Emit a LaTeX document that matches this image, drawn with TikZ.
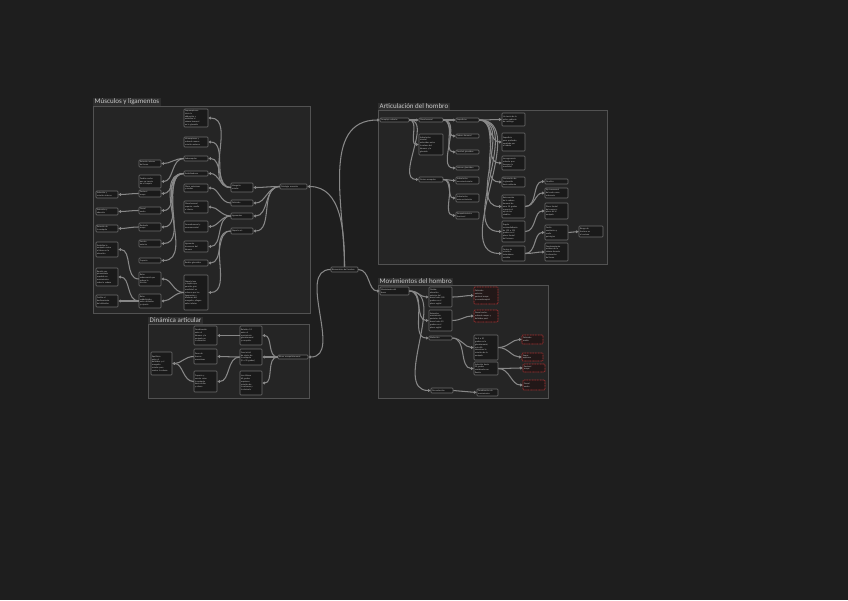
\documentclass[tikz,border=0pt]{standalone}
\usepackage{fontspec}
\setmainfont{Carlito}
\usetikzlibrary{arrows.meta}
\definecolor{bg}{HTML}{1E1E1E}
\definecolor{panel}{HTML}{252525}
\definecolor{panelline}{HTML}{525252}
\definecolor{boxfill}{HTML}{1A1A1A}
\definecolor{boxline}{HTML}{6E6E6E}
\definecolor{txt}{HTML}{C4C4C4}
\definecolor{ttxt}{HTML}{C8C8C8}
\definecolor{wire}{HTML}{888888}
\definecolor{redline}{HTML}{A83232}
\definecolor{redfill}{HTML}{221818}
\definecolor{titlefill}{HTML}{2E2E2E}
\tikzset{
 box/.style={draw=boxline, fill=boxfill, line width=0.6pt, rounded corners=0.8pt, inner xsep=1pt, inner ysep=0.4pt, font=\fontsize{2.2}{2.8}\selectfont, text=txt, align=left},
 redbox/.style={box, draw=redline, fill=redfill, dash pattern=on 1pt off 0.6pt},
 conn/.style={draw=wire, line width=1.05pt, -{Triangle[length=2.6pt,width=2.8pt]}},
 panelbox/.style={draw=panelline, fill=panel, line width=0.8pt},
 ptitle/.style={fill=titlefill, text=ttxt, font=\fontsize{7}{8}\selectfont, inner xsep=1.5pt, inner ysep=0.8pt, anchor=south west},
}
\newcommand\mbx[7]{%
 \pgfmathsetmacro\bxw{#5-#3}\pgfmathsetmacro\bxh{#6-#4}%
 \pgfmathsetmacro\bxcx{(#3+#5)/2}\pgfmathsetmacro\bxcy{(#4+#6)/2}%
 \pgfmathsetmacro\bxtw{#5-#3-2}%
 \node[#1, minimum width=\bxw pt, minimum height=\bxh pt, text width=\bxtw pt] (#2) at (\bxcx,\bxcy) {#7};}
\begin{document}
\begin{tikzpicture}[x=1pt,y=-1pt]
\fill[bg] (0,0) rectangle (848,600);
\useasboundingbox (0,0) rectangle (848,600);
% panels
\draw[panelbox] (93,106) rectangle (310,313);
\node[ptitle] (t1) at (93,106) {Músculos y ligamentos};
\draw[panelbox] (378,110) rectangle (607,264);
\node[ptitle] (t2) at (378,110) {Articulación del hombro};
\draw[panelbox] (378,285) rectangle (548,398);
\node[ptitle] (t3) at (378,285) {Movimientos del hombro};
\draw[panelbox] (148,324) rectangle (309,398);
\node[ptitle] (t4) at (148,324) {Dinámica articular};
% center
\mbx{box}{c}{331}{267}{358}{272}{Biomecánica del hombro}
% ---- Músculos y ligamentos
\mbx{box}{mr}{280}{184}{307}{189}{Fisiología muscular}
\mbx{box}{m1}{231}{183}{253}{192}{Manguito\\ rotador}
\mbx{box}{m2}{231}{200}{253}{206}{Deltoides}
\mbx{box}{m3}{231}{213}{253}{219}{Ligamentos}
\mbx{box}{m4}{231}{228}{253}{234}{Cápsula art.}
\mbx{box}{n1}{184}{109}{208}{127}{Supraespinoso:\\ inicia la\\ abducción y\\ estabiliza la\\ cabeza humeral\\ en la glenoide}
\mbx{box}{n2}{184}{137}{208}{147}{Infraespinoso y\\ redondo menor:\\ rotación externa}
\mbx{box}{n3}{184}{156}{208}{161}{Subescapular}
\mbx{box}{n4}{184}{171}{208}{176}{Estabilizadores}
\mbx{box}{n5}{184}{184}{208}{192}{Fibras anteriores\\ y medias}
\mbx{box}{n6}{184}{201}{208}{213}{Glenohumeral\\ superior, medio\\ e inferior}
\mbx{box}{n7}{184}{221}{208}{232}{Coracohumeral y\\ coracoacromial}
\mbx{box}{n8}{184}{241}{208}{252}{Ligamento\\ transverso del\\ húmero}
\mbx{box}{n9}{184}{260}{208}{266}{Rodete glenoideo}
\mbx{box}{n10}{184}{275}{208}{310}{Cápsula laxa\\ y amplia que\\ permite gran\\ movilidad; se\\ refuerza por los\\ ligamentos y\\ tendones del\\ manguito; pliegue\\ axilar inferior}
\mbx{box}{l2a}{139}{160}{161}{167}{Rotación interna\\ del brazo}
\mbx{box}{l2b}{139}{175}{161}{188}{Tendón ancho\\ que se inserta\\ en el troquín}
\mbx{box}{l2c}{139}{190}{161}{197}{Pectoral\\ mayor}
\mbx{box}{l2d}{139}{207}{161}{214}{Dorsal\\ ancho}
\mbx{box}{l2e}{139}{223}{161}{231}{Redondo\\ mayor}
\mbx{box}{l2f}{139}{240}{161}{247}{Serrato\\ anterior}
\mbx{box}{l2g}{139}{258}{161}{263}{Trapecio}
\mbx{box}{l2h}{139}{272}{161}{286}{Bolsa\\ subacromial que\\ reduce la\\ fricción}
\mbx{box}{l2i}{139}{294}{161}{308}{Bolsa\\ subdeltoidea\\ entre deltoides\\ y cápsula}
\mbx{box}{l3a}{96}{191}{118}{198}{Aducción y\\ rotación interna}
\mbx{box}{l3b}{96}{208}{118}{215}{Extensión y\\ aducción}
\mbx{box}{l3c}{96}{225}{118}{232}{Rotación de\\ la escápula}
\mbx{box}{l3d}{96}{242}{118}{257}{Estabiliza la\\ escápula contra\\ el tórax en la\\ elevación}
\mbx{box}{l3e}{96}{268}{118}{286}{Bursitis por\\ pinzamiento\\ repetido en\\ movimientos\\ sobre la cabeza}
\mbx{box}{l3f}{96}{295}{118}{307}{Facilita el\\ deslizamiento\\ del deltoides}
\foreach \k in {m1,m2,m3,m4} \draw[conn] (mr.west) to[out=180,in=0] (\k.east);
\foreach \k in {n1,n2,n3,n4} \draw[conn] (m1.west) to[out=180,in=0] (\k.east);
\draw[conn] (m2.west) to[out=180,in=0] (n5.east);
\foreach \k in {n6,n7,n8} \draw[conn] (m3.west) to[out=180,in=0] (\k.east);
\foreach \k in {n9,n10} \draw[conn] (m4.west) to[out=180,in=0] (\k.east);
\foreach \k in {l2a,l2b} \draw[conn] (n3.west) to[out=180,in=0] (\k.east);
\foreach \k in {l2c,l2d,l2e,l2f,l2g} \draw[conn] (n4.west) to[out=180,in=0] (\k.east);
\foreach \k in {l2h,l2i} \draw[conn] (n10.west) to[out=180,in=0] (\k.east);
\draw[conn] (l2c.west) to[out=180,in=0] (l3a.east);
\draw[conn] (l2d.west) to[out=180,in=0] (l3b.east);
\draw[conn] (l2e.west) to[out=180,in=0] (l3c.east);
\draw[conn] (l2h.west) to[out=180,in=0] (l3d.east);
\draw[conn] (l2i.west) to[out=180,in=0] (l3e.east);
\draw[conn] (l2i.west) to[out=180,in=0] (l3f.east);
% ---- Articulación del hombro
\mbx{box}{ar}{380}{118}{409}{122}{Complejo articular}
\mbx{box}{b1}{419}{118}{443}{122}{Glenohumeral}
\mbx{box}{b2}{419}{134}{443}{155}{Articulación\\ sinovial\\ esferoidea entre\\ la cabeza del\\ húmero y la\\ glenoide}
\mbx{box}{b3}{419}{177}{443}{182}{Cintura escapular}
\mbx{box}{c1}{456}{118}{479}{122}{Superficies}
\mbx{box}{c2}{456}{134}{479}{138}{Cabeza humeral}
\mbx{box}{c3}{456}{150}{479}{154}{Cavidad glenoidea}
\mbx{box}{c4}{456}{166}{479}{170}{Labrum glenoideo}
\mbx{box}{c5}{456}{177}{479}{184}{Articulación\\ acromioclavicular}
\mbx{box}{c6}{456}{194}{479}{202}{Articulación\\ esternoclavicular}
\mbx{box}{c7}{456}{212}{479}{219}{Escapulotorácica\\ funcional}
\mbx{box}{d1}{502}{113}{525}{126}{Un tercio de la\\ esfera cubierto\\ de cartílago}
\mbx{box}{d2}{502}{133}{525}{151}{Superficie\\ poco profunda,\\ ampliada por\\ el rodete}
\mbx{box}{d3}{502}{156}{525}{170}{Incongruencia\\ articular que\\ favorece la\\ movilidad}
\mbx{box}{d4}{502}{177}{525}{187}{Orientación de\\ la glenoide\\ hacia adelante}
\mbx{box}{d5}{502}{195}{525}{218}{Retroversión\\ de la cabeza\\ humeral de\\ unos 30 grados\\ respecto al\\ eje de los\\ cóndilos}
\mbx{box}{d6}{502}{221}{525}{242}{Ángulo\\ cervicodiafisario\\ de 130 a 135\\ grados en el\\ plano frontal\\ del húmero}
\mbx{box}{d7}{502}{246}{525}{261}{Centro de\\ rotación\\ instantáneo\\ variable}
\mbx{box}{e1}{545}{179}{568}{184}{Cóndilos}
\mbx{box}{e2}{545}{188}{568}{198}{Eje transversal\\ del codo como\\ referencia}
\mbx{box}{e3}{545}{203}{568}{219}{Plano frontal\\ del cuerpo y\\ plano de la\\ escápula}
\mbx{box}{e4}{545}{225}{568}{240}{Cuello\\ anatómico y\\ cuello\\ quirúrgico}
\mbx{box}{e5}{545}{243}{568}{261}{Desplazamiento\\ mínimo de la\\ cabeza durante\\ la elevación\\ del brazo}
\mbx{box}{f1}{579}{226}{603}{237}{Riesgo de\\ fractura en\\ el anciano}
\foreach \k in {b1,b2,b3} \draw[conn] (ar.east) to[out=0,in=180] (\k.west);
\foreach \k in {c1,c2,c3,c4} \draw[conn] (b1.east) to[out=0,in=180] (\k.west);
\foreach \k in {c5,c6,c7} \draw[conn] (b3.east) to[out=0,in=180] (\k.west);
\foreach \k in {d1,d2,d3,d4,d5,d6,d7} \draw[conn] (c1.east) to[out=0,in=180] (\k.west);
\foreach \k in {e1,e2} \draw[conn] (d5.east) to[out=0,in=180] (\k.west);
\draw[conn] (d6.east) to[out=0,in=180] (e3.west);
\foreach \k in {e4,e5} \draw[conn] (d7.east) to[out=0,in=180] (\k.west);
\draw[conn] (e4.east) -- (f1.west);
% ---- Movimientos del hombro
\mbx{box}{pr}{380}{287}{409}{295}{Movimientos del\\ brazo}
\mbx{box}{q1}{429}{287}{452}{307}{Flexión:\\ elevación\\ anterior del\\ brazo hasta 180\\ grados en el\\ plano sagital}
\mbx{box}{q2}{429}{310}{452}{331}{Extensión:\\ movimiento\\ posterior del\\ brazo hasta 50\\ grados en el\\ plano sagital}
\mbx{box}{q3}{429}{336}{452}{340}{Abducción}
\mbx{box}{q4}{431}{388}{453}{393}{Circunducción}
\mbx{box}{q5}{477}{389}{498}{396}{Combinación de\\ movimientos}
\mbx{redbox}{r1}{474}{287}{498}{304}{Deltoides\\ anterior,\\ pectoral mayor\\ y coracobraquial}
\mbx{redbox}{r2}{474}{310}{498}{322}{Dorsal ancho,\\ redondo mayor y\\ deltoides post.}
\mbx{box}{s1}{474}{335}{498}{360}{De 0 a 90\\ grados en la\\ glenohumeral;\\ más allá\\ interviene la\\ rotación de la\\ escápula}
\mbx{box}{s2}{474}{362}{498}{375}{Aducción hasta\\ 30 grados\\ combinada con\\ flexión}
\mbx{redbox}{t1a}{522}{335}{543}{344}{Deltoides\\ medio}
\mbx{redbox}{t2a}{522}{353}{543}{361}{Supra-\\ espinoso}
\mbx{redbox}{t3a}{523}{364}{545}{372}{Pectoral\\ mayor}
\mbx{redbox}{t4a}{523}{380}{545}{390}{Dorsal\\ ancho}
\foreach \k in {q1,q2,q3,q4} \draw[conn] (pr.east) to[out=0,in=180] (\k.west);
\draw[conn] (q1.east) to[out=0,in=180] (r1.west);
\draw[conn] (q2.east) to[out=0,in=180] (r2.west);
\foreach \k in {s1,s2} \draw[conn] (q3.east) to[out=0,in=180] (\k.west);
\foreach \k in {t1a,t2a} \draw[conn] (s1.east) to[out=0,in=180] (\k.west);
\foreach \k in {t3a,t4a} \draw[conn] (s2.east) to[out=0,in=180] (\k.west);
\draw[conn] (q4.east) -- (q5.west);
% ---- Dinámica articular
\mbx{box}{gr}{278}{355}{308}{359}{Ritmo escapulohumeral}
\mbx{box}{h1}{240}{326}{262}{345}{Relación 2:1\\ entre el\\ movimiento\\ glenohumeral\\ y escapular}
\mbx{box}{h2}{240}{349}{262}{365}{Fase inicial\\ de ajuste de\\ la escápula\\ (0 a 30 grados)}
\mbx{box}{h3}{240}{371}{262}{395}{Los últimos\\ 60 grados\\ requieren\\ rotación de\\ la columna y\\ la clavícula}
\mbx{box}{i1}{194}{326}{217}{345}{Coordinación\\ entre el\\ húmero y la\\ escápula en\\ la elevación}
\mbx{box}{i2}{194}{349}{217}{364}{Pares de\\ fuerzas\\ musculares}
\mbx{box}{i3}{194}{371}{217}{392}{Trapecio y\\ serrato rotan\\ la escápula\\ hacia arriba\\ y afuera}
\mbx{box}{j1}{151}{352}{172}{375}{Equilibrio\\ entre el\\ deltoides y el\\ manguito\\ rotador para\\ centrar la cabeza}
\foreach \k in {h1,h2,h3} \draw[conn] (gr.west) to[out=180,in=0] (\k.east);
\draw[conn] (h1.west) to[out=180,in=0] (i1.east);
\foreach \k in {i2,i3} \draw[conn] (h2.west) to[out=180,in=0] (\k.east);
\foreach \k in {i2,i3} \draw[conn] (\k.west) to[out=180,in=0] (j1.east);
% ---- center links
\draw[conn] (c.north) to[out=90,in=0] (mr.east);
\draw[conn] (c.north) to[out=90,in=180] (ar.west);
\draw[conn] (c.west) to[out=180,in=0] (gr.east);
\draw[conn] (c.east) to[out=0,in=180] (pr.west);
\end{tikzpicture}
\end{document}
